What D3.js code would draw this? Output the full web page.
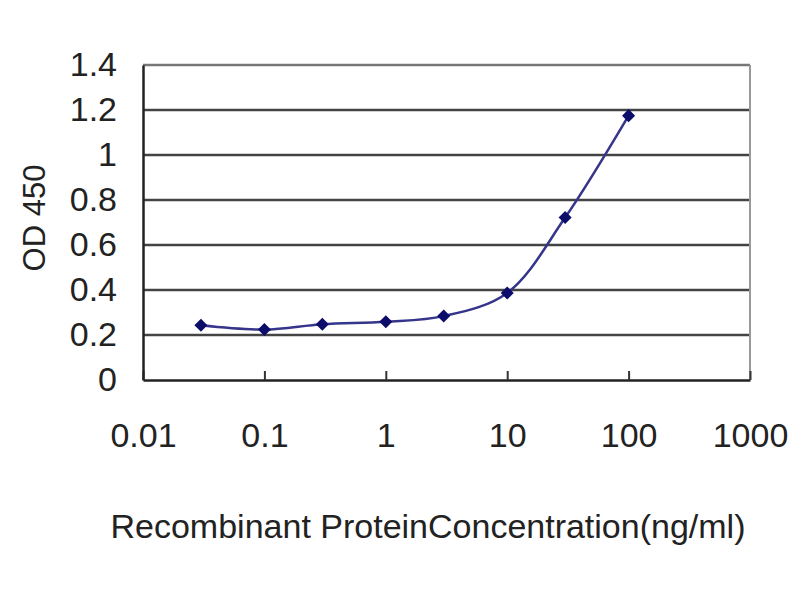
<!DOCTYPE html>
<html><head><meta charset="utf-8">
<script src="https://cdn.jsdelivr.net/npm/d3@7/dist/d3.min.js"></script>
<style>body{margin:0;background:#fff}text{font-family:"Liberation Sans",Arial,sans-serif;fill:#222}</style>
</head><body><svg id="c" width="800" height="600"></svg>
<script>
const concentrations = [0.03, 0.1, 0.3, 1, 3, 10, 30, 100];
const odValues = [0.243, 0.224, 0.248, 0.259, 0.284, 0.387, 0.722, 1.175];
const xTicks = [0.01, 0.1, 1, 10, 100, 1000];
const xTickLabels = ["0.01", "0.1", "1", "10", "100", "1000"];
const yTicks = [0, 0.2, 0.4, 0.6, 0.8, 1, 1.2, 1.4];
const yTickLabels = ["0", "0.2", "0.4", "0.6", "0.8", "1", "1.2", "1.4"];

const FONT = '"Liberation Sans",Arial,sans-serif';
const svg = d3.select("#c");
const L = 143, R = 750, T = 65, B = 380;
const x = d3.scaleLog().domain([0.01, 1000]).range([L, R]);
const y = d3.scaleLinear().domain([0, 1.4]).range([B, T]);

// gridlines
svg.append("g").selectAll("line").data(yTicks.filter(v => v > 0 && v < 1.4)).join("line")
  .attr("x1", L).attr("x2", R).attr("y1", d => y(d)).attr("y2", d => y(d))
  .attr("stroke", "#444").attr("stroke-width", 2.5);
// top & right border
svg.append("line").attr("x1", L).attr("x2", R).attr("y1", y(1.4)).attr("y2", y(1.4)).attr("stroke", "#777").attr("stroke-width", 2.5);
svg.append("line").attr("x1", R).attr("x2", R).attr("y1", T).attr("y2", B).attr("stroke", "#999").attr("stroke-width", 2);

// axes
const xAxis = d3.axisBottom(x).tickValues(xTicks).tickFormat((d, i) => xTickLabels[i]).tickSizeInner(-9).tickSizeOuter(0).tickPadding(43);
const gx = svg.append("g").attr("transform", `translate(0,${B})`).call(xAxis);
gx.select(".domain").attr("stroke", "#222").attr("stroke-width", 2.5);
gx.selectAll(".tick line").attr("stroke", "#333").attr("stroke-width", 2);
gx.selectAll(".tick text").attr("font-size", 34).style("font-family", FONT).attr("fill", "#222");

const yAxis = d3.axisLeft(y).tickValues(yTicks).tickFormat((d, i) => yTickLabels[i]).tickSize(0).tickPadding(26);
const gy = svg.append("g").attr("transform", `translate(${L},0)`).call(yAxis);
gy.select(".domain").attr("stroke", "#222").attr("stroke-width", 2.5);
gy.selectAll(".tick text").attr("font-size", 34).style("font-family", FONT).attr("fill", "#222");

// line
const pts = concentrations.map((c, i) => [c, odValues[i]]);
svg.append("path").datum(pts)
  .attr("d", d3.line().x(d => x(d[0])).y(d => y(d[1])).curve(d3.curveCatmullRom.alpha(0.5)))
  .attr("fill", "none").attr("stroke", "#35358c").attr("stroke-width", 2.5);
// markers
svg.append("g").selectAll("path").data(pts).join("path")
  .attr("transform", d => `translate(${x(d[0])},${y(d[1])}) rotate(45)`)
  .attr("d", d3.symbol(d3.symbolSquare, 85)())
  .attr("fill", "#0c0c6a");

// titles
svg.append("text").attr("x", 428).attr("y", 538).attr("text-anchor", "middle").attr("font-size", 34).text("Recombinant ProteinConcentration(ng/ml)");
svg.append("text").attr("transform", "translate(45,218) rotate(-90)").attr("text-anchor", "middle").attr("font-size", 31).text("OD 450");
</script></body></html>
